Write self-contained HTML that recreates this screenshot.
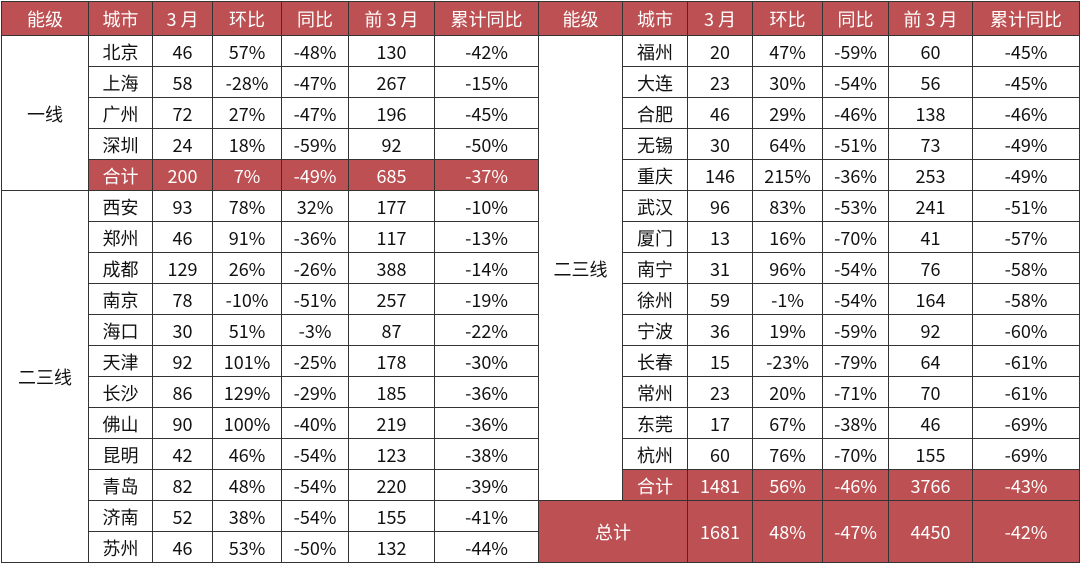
<!DOCTYPE html>
<html><head><meta charset="utf-8"><style>
body{margin:0;width:1080px;height:564px;background:#fff;overflow:hidden;position:relative;font-family:"Noto Sans CJK SC","Liberation Sans",sans-serif;}
.c{position:absolute;box-sizing:border-box;border:1px solid #333;display:flex;align-items:center;justify-content:center;font-size:18px;line-height:1;color:#111;background:#fff;padding-top:1px;}
.r{background:#bc5052;color:#fff;}
</style></head><body>
<script>
function cell(x1,y1,x2,y2,t,red){document.write('<div class="c'+(red?' r':'')+'" style="left:'+x1+'px;top:'+y1+'px;width:'+(x2-x1+1)+'px;height:'+(y2-y1+1)+'px">'+t+'</div>');}
var L=[1,88,152,212,281,348,434,538],R=[538,622,687,752,822,888,972,1079];
var H=['能级','城市','3 月','环比','同比','前 3 月','累计同比'];
function Y(i){return 35+i*31;}
for(var k=0;k<7;k++){cell(L[k],1,L[k+1],35,H[k],1);cell(R[k],1,R[k+1],35,H[k],1);}
var left=[['北京',46,'57%','-48%',130,'-42%'],['上海',58,'-28%','-47%',267,'-15%'],['广州',72,'27%','-47%',196,'-45%'],['深圳',24,'18%','-59%',92,'-50%'],['合计',200,'7%','-49%',685,'-37%'],
['西安',93,'78%','32%',177,'-10%'],['郑州',46,'91%','-36%',117,'-13%'],['成都',129,'26%','-26%',388,'-14%'],['南京',78,'-10%','-51%',257,'-19%'],['海口',30,'51%','-3%',87,'-22%'],['天津',92,'101%','-25%',178,'-30%'],['长沙',86,'129%','-29%',185,'-36%'],['佛山',90,'100%','-40%',219,'-36%'],['昆明',42,'46%','-54%',123,'-38%'],['青岛',82,'48%','-54%',220,'-39%'],['济南',52,'38%','-54%',155,'-41%'],['苏州',46,'53%','-50%',132,'-44%']];
var right=[['福州',20,'47%','-59%',60,'-45%'],['大连',23,'30%','-54%',56,'-45%'],['合肥',46,'29%','-46%',138,'-46%'],['无锡',30,'64%','-51%',73,'-49%'],['重庆',146,'215%','-36%',253,'-49%'],['武汉',96,'83%','-53%',241,'-51%'],['厦门',13,'16%','-70%',41,'-57%'],['南宁',31,'96%','-54%',76,'-58%'],['徐州',59,'-1%','-54%',164,'-58%'],['宁波',36,'19%','-59%',92,'-60%'],['长春',15,'-23%','-79%',64,'-61%'],['常州',23,'20%','-71%',70,'-61%'],['东莞',17,'67%','-38%',46,'-69%'],['杭州',60,'76%','-70%',155,'-69%'],['合计',1481,'56%','-46%',3766,'-43%']];
cell(L[0],Y(0),L[1],Y(5),'一线');cell(L[0],Y(5),L[1],Y(17),'二三线');
left.forEach(function(r,i){var red=r[0]=='合计';for(var k=0;k<6;k++)cell(L[k+1],Y(i),L[k+2],Y(i+1),r[k],red);});
cell(R[0],Y(0),R[1],Y(15),'二三线');
right.forEach(function(r,i){var red=r[0]=='合计';for(var k=0;k<6;k++)cell(R[k+1],Y(i),R[k+2],Y(i+1),r[k],red);});
var t=['总计',1681,'48%','-47%',4450,'-42%'];
cell(R[0],Y(15),R[2],Y(17),t[0],1);
for(var k=1;k<6;k++)cell(R[k+1],Y(15),R[k+2],Y(17),t[k],1);
</script>
</body></html>
